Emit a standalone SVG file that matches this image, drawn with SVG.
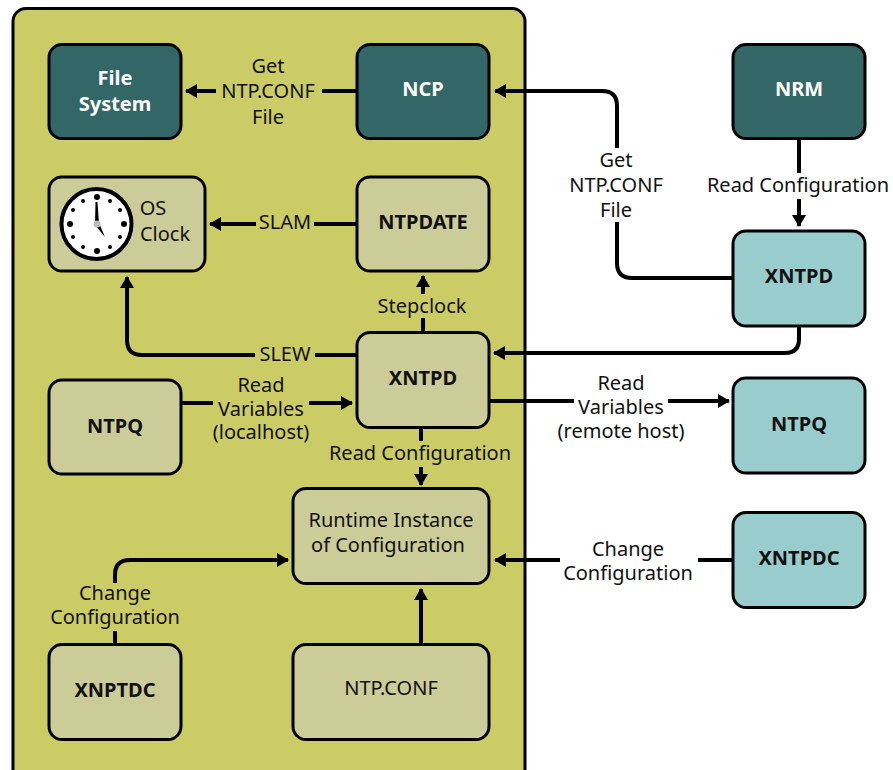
<svg xmlns="http://www.w3.org/2000/svg" width="893" height="770" viewBox="0 0 893 770">
<style>
text{font-family:"Noto Sans","DejaVu Sans",sans-serif;font-size:20px;fill:#111;text-anchor:middle}
.b{font-weight:700}
.w{fill:#fff}
.n{stroke:#000;stroke-width:3}
.dark{fill:#336666}.light{fill:#99cccc}.tan{fill:#cccc99}
.c{fill:none;stroke:#000;stroke-width:4;stroke-linejoin:round}
.d{fill:#000}
</style>
<defs>
<marker id="a" markerUnits="userSpaceOnUse" markerWidth="12" markerHeight="14" refX="11" refY="7" orient="auto"><path d="M12 7L0 0V14Z" fill="#000"/></marker>
</defs>
<rect id="container" x="13" y="8.500" width="512" height="775" rx="13" fill="#cccc66" stroke="#000" stroke-width="3"/>
<g id="connectors">
<path class="c" marker-end="url(#a)" d="M357 91H186"/>
<path class="c" marker-end="url(#a)" d="M733 278H632Q617 278 617 263V106Q617 91 602 91H495"/>
<path class="c" marker-end="url(#a)" d="M799 138V226"/>
<path class="c" marker-end="url(#a)" d="M357 224H210"/>
<path class="c" marker-end="url(#a)" d="M423 332V276"/>
<path class="c" marker-end="url(#a)" d="M357 355H142Q127 355 127 340V277"/>
<path class="c" marker-end="url(#a)" d="M799 326V339Q799 353 785 353H494"/>
<path class="c" marker-end="url(#a)" d="M181 403H352"/>
<path class="c" marker-end="url(#a)" d="M489 401H729"/>
<path class="c" marker-end="url(#a)" d="M421 428V485"/>
<path class="c" marker-end="url(#a)" d="M733 560H495"/>
<path class="c" marker-end="url(#a)" d="M115 644V575Q115 560 130 560H288"/>
<path class="c" marker-end="url(#a)" d="M421 644V589"/>
</g>
<g id="labels">
<g fill="#cccc66">
<rect x="216" y="54" width="106" height="76"/><rect x="256" y="210" width="58" height="26"/><rect x="255" y="343" width="60" height="24"/>
<rect x="213" y="394" width="96" height="18"/><rect x="372" y="294" width="100" height="24"/><rect x="326" y="441" width="190" height="26"/><rect x="46" y="583" width="138" height="48"/>
</g>
<g fill="#fff">
<rect x="566" y="148" width="100" height="74"/><rect x="704" y="173" width="188" height="26"/><rect x="574" y="392" width="94" height="18"/><rect x="560" y="537" width="138" height="48"/>
</g>
<text x="268" y="73">Get</text><text x="268" y="98">NTP.CONF</text><text x="268" y="124">File</text>
<text x="616" y="167">Get</text><text x="616" y="192">NTP.CONF</text><text x="616" y="217">File</text>
<text x="798" y="192">Read Configuration</text>
<text x="285" y="229">SLAM</text>
<text x="422" y="313">Stepclock</text>
<text x="285" y="361">SLEW</text>
<text x="261" y="392">Read</text><text x="261" y="416">Variables</text><text x="261" y="439">(localhost)</text>
<text x="621" y="390">Read</text><text x="621" y="414">Variables</text><text x="621" y="438">(remote host)</text>
<text x="420" y="460">Read Configuration</text>
<text x="628" y="556">Change</text><text x="628" y="580">Configuration</text>
<text x="115" y="600">Change</text><text x="115" y="624">Configuration</text>
</g>
<g id="node-filesystem"><rect class="n dark" x="49" y="44.500" width="132" height="94" rx="13"/><text class="b w" x="115" y="85">File</text><text class="b w" x="115" y="111">System</text></g>
<g id="node-ncp"><rect class="n dark" x="357" y="44.500" width="132" height="94" rx="13"/><text class="b w" x="423" y="96">NCP</text></g>
<g id="node-nrm"><rect class="n dark" x="733" y="44.500" width="132" height="94" rx="13"/><text class="b w" x="799" y="96">NRM</text></g>
<g id="node-osclock"><rect class="n tan" x="49" y="177" width="156" height="94" rx="13"/>
<circle cx="96.500" cy="224" r="35" fill="#fff" stroke="#000" stroke-width="4"/>
<g class="d"><circle cx="97" cy="197" r="3"/><circle cx="97" cy="251" r="3"/><circle cx="70" cy="224" r="3"/><circle cx="124" cy="224" r="3"/><circle cx="83" cy="201" r="2"/><circle cx="110" cy="201" r="2"/><circle cx="73" cy="210" r="2"/><circle cx="120" cy="210" r="2"/><circle cx="73" cy="237" r="2"/><circle cx="120" cy="237" r="2"/><circle cx="83" cy="247" r="2"/><circle cx="110" cy="247" r="2"/></g>
<path d="M95.500 202H97.500L99 224H95Z" fill="#000"/><path d="M95 225L99 223L105 237Z" fill="#000"/><circle cx="97" cy="224" r="3.500" fill="#bbb"/>
<text x="153" y="215">OS</text><text x="165" y="241">Clock</text></g>
<g id="node-ntpdate"><rect class="n tan" x="357" y="177" width="132" height="94" rx="13"/><text class="b" x="423" y="229">NTPDATE</text></g>
<g id="node-xntpd-local"><rect class="n tan" x="357" y="332.500" width="132" height="95" rx="13"/><text class="b" x="423" y="385">XNTPD</text></g>
<g id="node-xntpd-remote"><rect class="n light" x="733" y="231" width="132" height="95" rx="13"/><text class="b" x="799" y="283">XNTPD</text></g>
<g id="node-ntpq-local"><rect class="n tan" x="49" y="380" width="132" height="94" rx="13"/><text class="b" x="115" y="433">NTPQ</text></g>
<g id="node-ntpq-remote"><rect class="n light" x="733" y="378" width="132" height="95" rx="13"/><text class="b" x="799" y="431">NTPQ</text></g>
<g id="node-runtime"><rect class="n tan" x="293" y="488.500" width="196" height="95" rx="13"/><text x="391" y="527">Runtime Instance</text><text x="388" y="552">of Configuration</text></g>
<g id="node-xntpdc-remote"><rect class="n light" x="733" y="512.500" width="132" height="95" rx="13"/><text class="b" x="799" y="565">XNTPDC</text></g>
<g id="node-xnptdc"><rect class="n tan" x="49" y="644.500" width="132" height="95" rx="13"/><text class="b" x="115" y="697">XNPTDC</text></g>
<g id="node-ntpconf"><rect class="n tan" x="293" y="644.500" width="196" height="95" rx="13"/><text x="391" y="695">NTP.CONF</text></g>
</svg>
